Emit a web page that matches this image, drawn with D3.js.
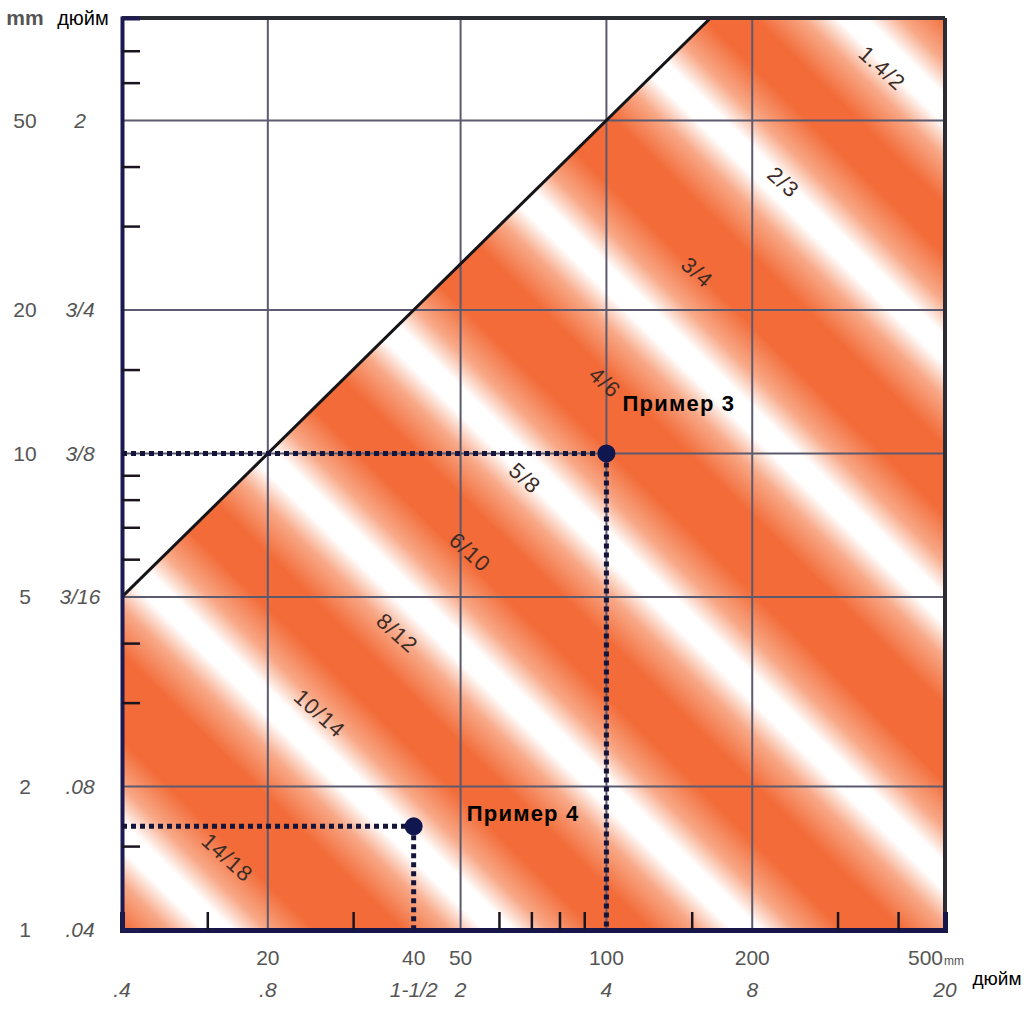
<!DOCTYPE html>
<html lang="ru">
<head>
	<meta charset="UTF-8">
	<title>Диаграмма</title>
	<script src="https://cdn.jsdelivr.net/npm/d3@7"></script>
</head>
<style>
	body { margin: 0; background: #fff; }
	text { font-family: "Liberation Sans", Arial, sans-serif; }
</style>
<body>
	<script type="text/javascript">
		// сетка и деления (мм)
		var xGrid = [20, 50, 100, 200];
		var yGrid = [2, 5, 10, 20, 50];
		var xMinor = [15, 30, 60, 70, 80, 90, 150, 300, 400];
		var yMinor = [1.5, 3, 4, 6, 7, 8, 9, 15, 30, 40, 60, 70];

		// подписи осей
		var yMm = [50, 20, 10, 5, 2, 1];
		var yMmText = ["50", "20", "10", "5", "2", "1"];
		var yInchText = ["2", "3/4", "3/8", "3/16", ".08", ".04"];
		var xMm = [20, 40, 50, 100, 200];
		var xMmText = ["20", "40", "50", "100", "200"];
		var xInch = [10, 20, 40, 50, 100, 200, 500];
		var xInchText = [".4", ".8", "1-1/2", "2", "4", "8", "20"];

		// граница закрашенной области, y = x/2
		var edgeX = [10, 164];
		var edgeY = [5, 82];

		// центры белых полос (произведение x*y, мм2)
		var bandProduct = [15.8, 60, 195, 646, 2344, 8220, 26300];

		// подписи полос
		var bandText = ["14/18", "10/14", "8/12", "6/10", "5/8", "4/6", "3/4", "2/3", "1.4/2"];
		var bandX = [16.5, 25.6, 37, 52.3, 67.9, 99.3, 154, 232, 371];
		var bandY = [1.42, 2.85, 4.2, 6.21, 8.88, 14.1, 24, 37.1, 64.4];

		// примеры
		var exX = [100, 40];
		var exY = [10, 1.65];
		var exText = ["Пример 3", "Пример 4"];
		var exTextX = [108, 51.5];
		var exTextY = [12.3, 1.69];

		var width = 1029;
		var height = 1020;
		var orange = "#f26b38";

		var x = d3.scaleLog().domain([10, 500]).range([122, 945]);
		var y = d3.scaleLog().domain([1, 82]).range([930, 18]);

		var svg = d3.select('body')
					.append('svg')
					.attr('width', width)
					.attr('height', height);

		// градиент поперёк полос
		var kx = x(100) - x(10);
		var ky = y(1) - y(10);
		var u0 = Math.log10(x.domain()[0] * y.domain()[0]);
		var uEnd = 3.75;
		var t = uEnd / (1 / (kx * kx) + 1 / (ky * ky));

		var grad = svg.append('defs')
			.append('linearGradient')
			.attr('id', 'bands')
			.attr('gradientUnits', 'userSpaceOnUse')
			.attr('x1', x(10))
			.attr('y1', y(1))
			.attr('x2', x(10) + t / kx)
			.attr('y2', y(1) - t / ky);

		var stops = [[0, orange]];
		bandProduct.forEach(function(p){
			var u = Math.log10(p) - u0;
			stops.push([(u - 0.2) / uEnd, orange]);
			stops.push([(u - 0.1) / uEnd, "#f8a988"]);
			stops.push([(u - 0.03) / uEnd, "#ffffff"]);
			stops.push([(u + 0.03) / uEnd, "#ffffff"]);
			stops.push([(u + 0.1) / uEnd, "#f8a988"]);
			stops.push([(u + 0.2) / uEnd, orange]);
		});
		stops.push([1, orange]);

		grad.selectAll('stop')
			.data(stops)
			.enter()
			.append('stop')
			.attr('offset', function(d){ return Math.max(0, Math.min(1, d[0])); })
			.attr('stop-color', function(d){ return d[1]; });

		// закрашенная область
		var area = [
			[x.domain()[0], y.domain()[0]],
			[x.domain()[1], y.domain()[0]],
			[x.domain()[1], y.domain()[1]],
			[edgeX[1], edgeY[1]],
			[edgeX[0], edgeY[0]]
		];
		var line = d3.line()
			.x(function(d){ return x(d[0]); })
			.y(function(d){ return y(d[1]); });

		svg.append('path')
			.attr('d', line(area) + 'Z')
			.attr('fill', 'url(#bands)');

		// сетка
		svg.selectAll('.vgrid')
			.data(xGrid)
			.enter()
			.append('line')
			.attr('x1', function(d){ return x(d); })
			.attr('x2', function(d){ return x(d); })
			.attr('y1', y.range()[1])
			.attr('y2', y.range()[0])
			.attr('stroke', '#5c5a6e')
			.attr('stroke-width', 2);

		svg.selectAll('.hgrid')
			.data(yGrid)
			.enter()
			.append('line')
			.attr('y1', function(d){ return y(d); })
			.attr('y2', function(d){ return y(d); })
			.attr('x1', x.range()[0])
			.attr('x2', x.range()[1])
			.attr('stroke', '#5c5a6e')
			.attr('stroke-width', 2);

		// подписи полос
		svg.selectAll('.band')
			.data(bandText)
			.enter()
			.append('text')
			.attr('transform', function(d, i){
				return 'translate(' + x(bandX[i]) + ',' + y(bandY[i]) + ') rotate(42)';
			})
			.attr('text-anchor', 'middle')
			.attr('dy', '0.35em')
			.attr('font-size', 22)
			.attr('letter-spacing', 1)
			.attr('fill', '#3d2c26')
			.text(function(d){ return d; });

		// граница
		svg.append('path')
			.attr('d', line(edgeX.map(function(d, i){ return [d, edgeY[i]]; })))
			.attr('stroke', '#141418')
			.attr('stroke-width', 3)
			.attr('fill', 'none');

		// рамка
		svg.append('line')
			.attr('x1', x.range()[0]).attr('x2', x.range()[1])
			.attr('y1', y.range()[1]).attr('y2', y.range()[1])
			.attr('stroke', '#2c2c34').attr('stroke-width', 4);
		svg.append('line')
			.attr('x1', x.range()[1]).attr('x2', x.range()[1])
			.attr('y1', y.range()[1]).attr('y2', y.range()[0])
			.attr('stroke', '#2c2c34').attr('stroke-width', 4);

		// мелкие деления
		svg.append('g')
			.attr('transform', 'translate(0,' + y.range()[0] + ')')
			.call(d3.axisBottom(x).tickValues(xMinor).tickSize(-18).tickFormat(''))
			.call(function(g){
				g.select('.domain').attr('stroke', '#16164a').attr('stroke-width', 5);
				g.selectAll('.tick line').attr('stroke', '#1a1420').attr('stroke-width', 2.5);
			});

		svg.append('g')
			.attr('transform', 'translate(' + x.range()[0] + ',0)')
			.call(d3.axisLeft(y).tickValues(yMinor).tickSize(-18).tickFormat(''))
			.call(function(g){
				g.select('.domain').attr('stroke', '#1c1a50').attr('stroke-width', 4);
				g.selectAll('.tick line').attr('stroke', '#1a1420').attr('stroke-width', 2.5);
			});

		// примеры: пунктир и точки
		svg.selectAll('.exh')
			.data(exX)
			.enter()
			.append('line')
			.attr('x1', x.range()[0])
			.attr('x2', function(d){ return x(d); })
			.attr('y1', function(d, i){ return y(exY[i]); })
			.attr('y2', function(d, i){ return y(exY[i]); })
			.attr('stroke', '#15153c')
			.attr('stroke-width', 5)
			.attr('stroke-dasharray', '5,4');

		svg.selectAll('.exv')
			.data(exX)
			.enter()
			.append('line')
			.attr('x1', function(d){ return x(d); })
			.attr('x2', function(d){ return x(d); })
			.attr('y1', function(d, i){ return y(exY[i]); })
			.attr('y2', y.range()[0])
			.attr('stroke', '#15153c')
			.attr('stroke-width', 5)
			.attr('stroke-dasharray', '5,4');

		svg.selectAll('.exdot')
			.data(exX)
			.enter()
			.append('circle')
			.attr('cx', function(d){ return x(d); })
			.attr('cy', function(d, i){ return y(exY[i]); })
			.attr('r', 9)
			.attr('fill', '#10164e');

		svg.selectAll('.extext')
			.data(exText)
			.enter()
			.append('text')
			.attr('x', function(d, i){ return x(exTextX[i]); })
			.attr('y', function(d, i){ return y(exTextY[i]); })
			.attr('font-size', 22)
			.attr('letter-spacing', 1.2)
			.attr('font-weight', 'bold')
			.attr('fill', '#000')
			.text(function(d){ return d; });

		// подписи оси Y
		svg.selectAll('.ymm')
			.data(yMm)
			.enter()
			.append('text')
			.attr('x', 25)
			.attr('y', function(d){ return y(d); })
			.attr('dy', '0.35em')
			.attr('text-anchor', 'middle')
			.attr('font-size', 21)
			.attr('fill', '#555')
			.text(function(d, i){ return yMmText[i]; });

		svg.selectAll('.yin')
			.data(yMm)
			.enter()
			.append('text')
			.attr('x', 80)
			.attr('y', function(d){ return y(d); })
			.attr('dy', '0.35em')
			.attr('text-anchor', 'middle')
			.attr('font-size', 21)
			.attr('font-style', 'italic')
			.attr('fill', '#555')
			.text(function(d, i){ return yInchText[i]; });

		svg.append('text')
			.attr('x', 25).attr('y', 18).attr('dy', '0.35em')
			.attr('text-anchor', 'middle')
			.attr('font-size', 21).attr('font-weight', 'bold')
			.attr('fill', '#555')
			.text('mm');
		svg.append('text')
			.attr('x', 83).attr('y', 18).attr('dy', '0.35em')
			.attr('text-anchor', 'middle')
			.attr('font-size', 20)
			.attr('fill', '#000')
			.text('дюйм');

		// подписи оси X
		svg.selectAll('.xmm')
			.data(xMm)
			.enter()
			.append('text')
			.attr('x', function(d){ return x(d); })
			.attr('y', 958)
			.attr('dy', '0.35em')
			.attr('text-anchor', 'middle')
			.attr('font-size', 21)
			.attr('fill', '#555')
			.text(function(d, i){ return xMmText[i]; });

		svg.append('text')
			.attr('x', x(500) - 2).attr('y', 958).attr('dy', '0.35em')
			.attr('text-anchor', 'end')
			.attr('font-size', 21)
			.attr('fill', '#555')
			.text('500');
		svg.append('text')
			.attr('x', x(500) - 1).attr('y', 965)
			.attr('font-size', 12)
			.attr('fill', '#555')
			.text('mm');

		svg.selectAll('.xin')
			.data(xInch)
			.enter()
			.append('text')
			.attr('x', function(d){ return x(d); })
			.attr('y', 990)
			.attr('dy', '0.35em')
			.attr('text-anchor', 'middle')
			.attr('font-size', 21)
			.attr('font-style', 'italic')
			.attr('fill', '#555')
			.text(function(d, i){ return xInchText[i]; });

		svg.append('text')
			.attr('x', 997).attr('y', 978).attr('dy', '0.35em')
			.attr('text-anchor', 'middle')
			.attr('font-size', 19)
			.attr('fill', '#000')
			.text('дюйм');
	</script>
</body>
</html>
